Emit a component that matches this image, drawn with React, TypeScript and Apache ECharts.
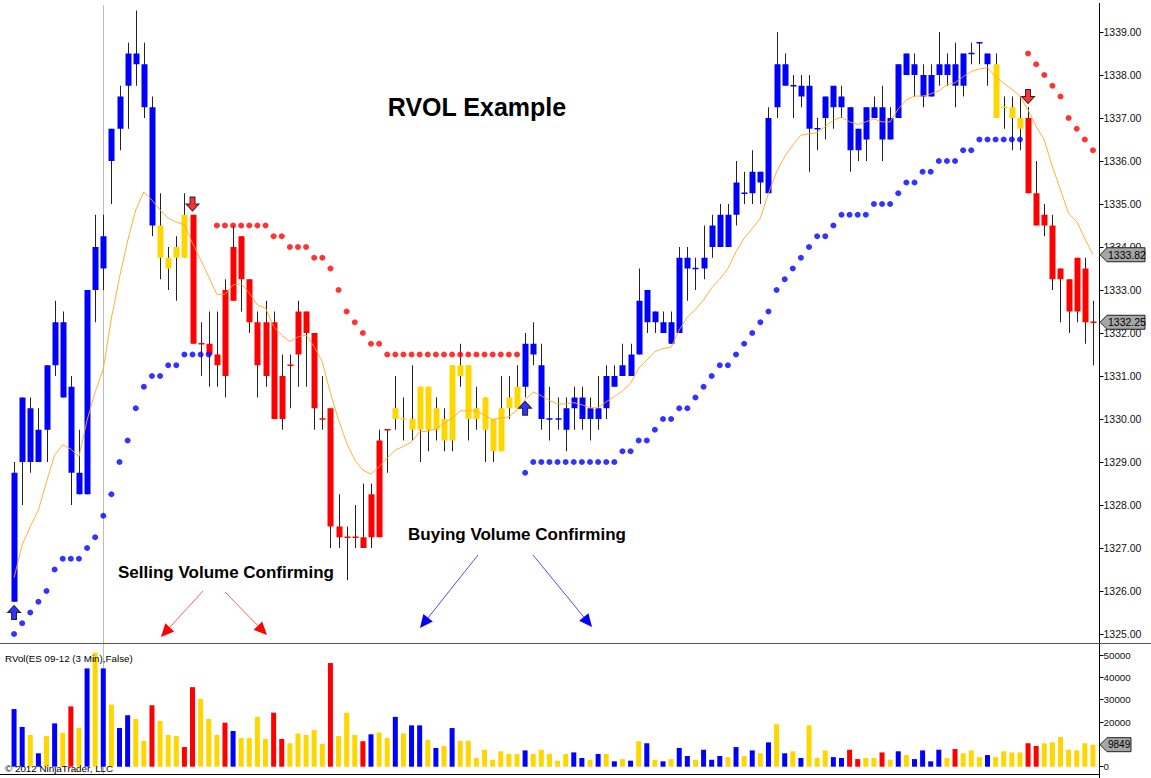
import React, { useEffect, useRef } from "react";
import * as echarts from "echarts";

const _ = null;

// Candle bodies (top / bottom of the body), wick extremes and RVOL state per 3-min bar
const bodyHigh = [
  1328.75, 1330.5, 1330.25, 1329.75, 1331.25, 1332.25, 1332.25, 1330.75, 1328.75, 1333.0,
  1334.0, 1334.25, 1336.75, 1337.5, 1338.5, 1338.5, 1338.25, 1337.25, 1334.5, 1333.75,
  1334.0, 1334.75, 1334.75, 1331.75, 1331.75, 1331.5, 1333.0, 1334.0, 1334.25, 1333.25,
  1332.25, 1332.25, 1332.25, 1331.0, 1331.25, 1332.5, 1332.5, 1332.0, 1330.0, 1330.25,
  1327.5, 1327.25, 1327.25, 1327.25, 1328.25, 1329.5, 1329.75, 1330.25, 1330.0, 1330.0,
  1330.75, 1330.75, 1330.25, 1330.0, 1331.25, 1331.25, 1331.25, 1330.25, 1330.5, 1330.0,
  1330.25, 1330.5, 1330.75, 1331.75, 1331.75, 1331.25, 1330.0, 1330.0, 1330.25, 1330.5,
  1330.5, 1330.25, 1330.25, 1331.0, 1331.0, 1331.25, 1331.5, 1332.75, 1333.0, 1332.5,
  1332.25, 1332.25, 1333.75, 1333.75, 1333.5, 1333.75, 1334.5, 1334.75, 1334.75, 1335.5,
  1335.25, 1335.75, 1335.75, 1337.0, 1338.25, 1338.25, 1337.75, 1337.75, 1337.75, 1336.75,
  1337.5, 1337.75, 1337.5, 1337.25, 1336.75, 1337.25, 1337.25, 1337.25, 1337.0, 1338.25,
  1338.5, 1338.25, 1338.0, 1338.0, 1338.25, 1338.25, 1338.25, 1338.5, 1338.5, 1338.75,
  1338.5, 1338.25, 1337.25, 1337.25, 1337.0, 1337.0, 1335.25, 1334.75, 1334.5, 1333.5,
  1333.25, 1333.75, 1333.5, 1332.25,
];
const bodyLow = [
  1325.75, 1329.0, 1329.0, 1329.0, 1329.75, 1331.25, 1330.5, 1328.75, 1328.25, 1328.25,
  1333.0, 1333.5, 1336.0, 1336.75, 1337.75, 1338.25, 1337.25, 1334.5, 1333.75, 1333.5,
  1333.75, 1333.75, 1331.75, 1331.75, 1331.5, 1331.25, 1331.0, 1332.75, 1333.25, 1332.25,
  1331.25, 1331.0, 1330.0, 1330.0, 1331.25, 1331.5, 1332.0, 1330.25, 1330.0, 1327.5,
  1327.25, 1327.25, 1327.25, 1327.0, 1327.25, 1327.25, 1329.75, 1330.0, 1330.0, 1329.75,
  1329.75, 1329.75, 1329.75, 1329.5, 1329.5, 1331.0, 1330.0, 1330.0, 1329.75, 1329.25,
  1329.25, 1330.25, 1330.25, 1330.75, 1331.5, 1330.0, 1330.0, 1330.0, 1329.75, 1330.25,
  1330.0, 1330.0, 1330.0, 1330.25, 1330.75, 1331.0, 1331.0, 1331.5, 1332.25, 1332.25,
  1332.0, 1331.75, 1332.0, 1333.5, 1333.5, 1333.5, 1334.0, 1334.0, 1334.0, 1334.75,
  1335.25, 1335.25, 1335.5, 1335.25, 1337.25, 1337.75, 1337.75, 1337.5, 1336.75, 1336.75,
  1337.0, 1337.25, 1337.25, 1336.25, 1336.25, 1336.5, 1337.0, 1336.5, 1336.5, 1337.0,
  1338.0, 1338.0, 1337.5, 1337.5, 1338.0, 1338.0, 1337.75, 1337.75, 1338.5, 1338.75,
  1338.25, 1337.0, 1337.25, 1337.0, 1336.75, 1335.25, 1334.5, 1334.5, 1333.25, 1333.25,
  1332.5, 1332.5, 1332.25, 1332.25,
];
const highs = [
  1329.0, 1330.5, 1330.5, 1330.25, 1331.25, 1332.75, 1332.5, 1331.0, 1329.75, 1333.0,
  1334.75, 1334.75, 1336.75, 1337.75, 1338.75, 1339.5, 1338.75, 1337.5, 1335.25, 1334.0,
  1334.25, 1335.25, 1334.75, 1332.25, 1332.5, 1332.5, 1333.25, 1334.5, 1334.25, 1333.25,
  1332.5, 1332.75, 1332.5, 1331.5, 1331.5, 1332.75, 1332.5, 1332.0, 1331.0, 1330.25,
  1328.25, 1327.5, 1328.0, 1328.5, 1328.5, 1329.75, 1329.75, 1331.0, 1330.5, 1331.25,
  1330.75, 1330.75, 1330.5, 1330.25, 1331.25, 1331.75, 1331.25, 1330.75, 1330.5, 1330.0,
  1331.0, 1331.0, 1331.25, 1332.0, 1332.25, 1331.75, 1330.75, 1330.5, 1330.5, 1330.75,
  1330.75, 1330.5, 1331.0, 1331.25, 1331.25, 1331.75, 1331.75, 1333.5, 1333.0, 1332.5,
  1332.5, 1332.5, 1334.0, 1334.0, 1333.75, 1334.5, 1334.75, 1335.0, 1335.0, 1336.0,
  1335.75, 1336.25, 1335.75, 1337.25, 1339.0, 1338.5, 1338.0, 1338.0, 1338.0, 1337.0,
  1337.5, 1337.75, 1337.75, 1337.25, 1336.75, 1337.25, 1337.5, 1337.75, 1337.25, 1338.25,
  1338.5, 1338.5, 1338.25, 1338.25, 1339.0, 1338.5, 1338.75, 1338.5, 1338.75, 1338.75,
  1338.5, 1338.5, 1337.5, 1337.5, 1337.5, 1337.25, 1336.0, 1335.0, 1334.75, 1333.5,
  1333.25, 1333.75, 1333.75, 1332.75,
];
const lows = [
  1325.75, 1328.0, 1328.75, 1329.0, 1329.0, 1331.0, 1330.5, 1328.0, 1328.25, 1328.25,
  1332.25, 1333.0, 1335.0, 1336.25, 1336.75, 1337.75, 1337.0, 1334.25, 1333.25, 1333.0,
  1332.75, 1333.75, 1331.75, 1331.0, 1330.75, 1330.75, 1330.5, 1332.75, 1332.5, 1332.0,
  1330.5, 1330.75, 1330.0, 1329.75, 1330.25, 1330.75, 1330.75, 1329.75, 1329.75, 1327.0,
  1327.0, 1326.25, 1327.0, 1327.0, 1327.0, 1327.25, 1328.75, 1329.75, 1329.5, 1329.5,
  1329.0, 1329.25, 1329.5, 1329.25, 1329.25, 1330.75, 1329.5, 1329.75, 1329.0, 1329.0,
  1329.25, 1330.0, 1330.25, 1330.5, 1331.25, 1329.75, 1329.5, 1329.75, 1329.25, 1329.75,
  1329.75, 1329.5, 1329.75, 1330.0, 1330.75, 1331.0, 1331.0, 1331.5, 1332.0, 1332.0,
  1332.0, 1331.75, 1332.0, 1332.75, 1333.0, 1333.25, 1333.75, 1334.0, 1334.0, 1334.5,
  1335.0, 1335.0, 1335.0, 1335.25, 1337.0, 1337.75, 1337.0, 1337.25, 1335.75, 1336.25,
  1336.5, 1336.75, 1337.0, 1335.75, 1336.0, 1336.0, 1337.0, 1336.0, 1336.5, 1337.0,
  1338.0, 1337.5, 1337.25, 1337.5, 1337.75, 1337.75, 1337.25, 1337.5, 1338.25, 1338.25,
  1337.75, 1337.0, 1336.75, 1336.25, 1336.25, 1335.25, 1334.5, 1334.25, 1333.0, 1332.25,
  1332.0, 1332.25, 1331.75, 1331.25,
];
// B = blue (buying volume), R = red (selling volume), G = gold (neutral)
const candleState = (
  "BBBBBBBBBBBBBBBBBB" + "GGGG" + "RRRRRRRRRRRRRRRRRRRRRRRRR" + "GGGGGGGGGGGGGGGG" +
  "BBBBBBBBBBBBBBBBBBBBBBBBBBBBBBBBBBBBBBBBBBBBBBBBBBBBBBBBBB" + "GGGG" + "RRRRRRRRR"
).split("");

// Orange moving average
const maValues = [
  1326.31, 1327.07, 1327.5, 1327.88, 1328.54, 1329.16, 1329.4, 1329.3, 1329.12, 1329.97,
  1330.63, 1331.16, 1332.35, 1333.29, 1334.14, 1334.86, 1335.28, 1335.09, 1334.86, 1334.67,
  1334.58, 1334.52, 1334.09, 1333.7, 1333.31, 1332.9, 1332.9, 1333.12, 1333.14, 1332.93,
  1332.65, 1332.58, 1332.15, 1331.95, 1331.8, 1331.91, 1331.95, 1331.68, 1331.33, 1330.6,
  1329.98, 1329.44, 1329.05, 1328.81, 1328.72, 1328.89, 1329.09, 1329.28, 1329.36, 1329.47,
  1329.7, 1329.72, 1329.77, 1329.9, 1330.02, 1330.19, 1330.19, 1330.19, 1330.09, 1329.99,
  1330.02, 1330.05, 1330.21, 1330.44, 1330.63, 1330.54, 1330.43, 1330.35, 1330.35, 1330.38,
  1330.33, 1330.26, 1330.26, 1330.4, 1330.52, 1330.65, 1330.83, 1331.18, 1331.37, 1331.57,
  1331.64, 1331.67, 1332.07, 1332.37, 1332.55, 1332.77, 1333.05, 1333.25, 1333.5, 1333.89,
  1334.2, 1334.43, 1334.67, 1335.25, 1335.75, 1336.1, 1336.37, 1336.6, 1336.63, 1336.66,
  1336.8, 1336.95, 1337.02, 1336.91, 1336.85, 1336.91, 1336.98, 1336.91, 1336.91, 1337.21,
  1337.42, 1337.51, 1337.51, 1337.56, 1337.63, 1337.77, 1337.82, 1337.96, 1338.08, 1338.14,
  1338.17, 1337.96, 1337.81, 1337.67, 1337.51, 1337.19, 1336.8, 1336.49, 1335.87, 1335.33,
  1334.78, 1334.59, 1334.2, 1333.82,
];

// Trailing stop dots: below price (blue) and above price (red)
const stopBelow = [
  1325.0, 1325.25, 1325.5, 1325.75, 1326.0, 1326.5, 1326.75, 1326.75, 1326.75, 1327.0,
  1327.25, 1327.75, 1328.25, 1329.0, 1329.5, 1330.25, 1330.75, 1331.0, 1331.0, 1331.25,
  1331.25, 1331.5, 1331.5, 1331.5, 1331.5, _, _, _, _, _,
  _, _, _, _, _, _, _, _, _, _,
  _, _, _, _, _, _, _, _, _, _,
  _, _, _, _, _, _, _, _, _, _,
  _, _, _, 1328.75, 1329.0, 1329.0, 1329.0, 1329.0, 1329.0, 1329.0,
  1329.0, 1329.0, 1329.0, 1329.0, 1329.0, 1329.25, 1329.25, 1329.5, 1329.5, 1329.75,
  1330.0, 1330.0, 1330.25, 1330.25, 1330.5, 1330.75, 1331.0, 1331.25, 1331.25, 1331.5,
  1331.75, 1332.0, 1332.25, 1332.5, 1333.0, 1333.25, 1333.5, 1333.75, 1334.0, 1334.25,
  1334.25, 1334.5, 1334.75, 1334.75, 1334.75, 1334.75, 1335.0, 1335.0, 1335.0, 1335.25,
  1335.5, 1335.5, 1335.75, 1335.75, 1336.0, 1336.0, 1336.0, 1336.25, 1336.25, 1336.5,
  1336.5, 1336.5, 1336.5, 1336.5, 1336.5, _, _, _, _, _,
  _, _, _, _,
];
const stopAbove = [
  _, _, _, _, _, _, _, _, _, _,
  _, _, _, _, _, _, _, _, _, _,
  _, _, _, _, _, 1334.5, 1334.5, 1334.5, 1334.5, 1334.5,
  1334.5, 1334.5, 1334.25, 1334.25, 1334.0, 1334.0, 1334.0, 1333.75, 1333.75, 1333.5,
  1333.0, 1332.5, 1332.25, 1332.0, 1331.75, 1331.75, 1331.5, 1331.5, 1331.5, 1331.5,
  1331.5, 1331.5, 1331.5, 1331.5, 1331.5, 1331.5, 1331.5, 1331.5, 1331.5, 1331.5,
  1331.5, 1331.5, 1331.5, _, _, _, _, _, _, _,
  _, _, _, _, _, _, _, _, _, _,
  _, _, _, _, _, _, _, _, _, _,
  _, _, _, _, _, _, _, _, _, _,
  _, _, _, _, _, _, _, _, _, _,
  _, _, _, _, _, _, _, _, _, _,
  _, _, _, _, _, 1338.5, 1338.25, 1338.0, 1337.75, 1337.5,
  1337.0, 1336.75, 1336.5, 1336.25,
];

// Signal arrows
const upArrowBars = [0, 63];
const upArrowPrices = [1325.5, 1330.25];
const downArrowBars = [22, 125];
const downArrowPrices = [1335.0, 1337.5];

// RVol volume pane
const volumes = [
  25800, 17800, 14200, 6000, 13700, 19400, 15200, 27000, 17300, 44000,
  51000, 44000, 27800, 17300, 23000, 21400, 11500, 27500, 20500, 14200,
  13700, 8800, 35600, 30300, 21400, 14200, 19700, 16000, 12800, 12800,
  22300, 12400, 24200, 12400, 10500, 14900, 14200, 16400, 10200, 46400,
  13700, 24200, 14200, 11400, 14500, 15300, 12800, 22300, 14900, 18500,
  18500, 12000, 8400, 9300, 17300, 11600, 11600, 3900, 7600, 3100,
  6900, 5700, 5700, 7300, 5700, 7600, 5700, 2700, 5700, 6400,
  3900, 3100, 5700, 5700, 2400, 3400, 2700, 11400, 10500, 3100,
  2400, 3400, 8400, 4800, 3100, 7600, 3100, 4800, 4300, 8800,
  4800, 7300, 6000, 10900, 19000, 6000, 6900, 3900, 18500, 3900,
  7300, 4300, 3900, 7600, 3400, 3900, 3900, 6400, 3100, 6900,
  5200, 3400, 7300, 2400, 7600, 3900, 7900, 6000, 7300, 4300,
  5200, 4300, 6900, 6400, 6400, 10500, 9300, 10500, 10900, 13300,
  7600, 7300, 10500, 9849,
];
const volumeState = (
  "BBGBGBGRGB" + "GBGBBGGRGG" + "GRRGGGRBGG" + "GGRRGGGGGR" + "GGGRBGGBGB" +
  "BGBGBGGGGG" + "GGGBGGGGGB" + "BGBGBGBGBG" + "BGBBGBBBGB" + "GBGBGBGBGG" +
  "GBBRRGGRGB" + "GBBBBGRGGG" + "BGGGGRRGGG" + "GGGG"
).split("");

const priceTicks = [1325, 1326, 1327, 1328, 1329, 1330, 1331, 1332, 1333, 1334, 1335, 1336, 1337, 1338, 1339];
const volumeTicks = [0, 10000, 20000, 30000, 40000, 50000];
const lastClose = 1332.25;
const lastMA = 1333.82;
const lastVolume = 9849;
const cursorBar = 11;
const categories = bodyHigh.map((_v, i) => String(i + 1));

const COLORS: Record<string, string> = { B: "#0000FF", R: "#FF0000", G: "#FFD700" };
const FONT = "'Liberation Sans', Arial, Helvetica, sans-serif";

function annotArrow(x1: number, y1: number, x2: number, y2: number, lineColor: string, headColor: string) {
  const ang = Math.atan2(y2 - y1, x2 - x1);
  const L = 13, W = 6;
  const bx = x2 - L * Math.cos(ang), by = y2 - L * Math.sin(ang);
  const px = -Math.sin(ang) * W, py = Math.cos(ang) * W;
  return [
    { type: "line", z: 40, shape: { x1, y1, x2: bx, y2: by }, style: { stroke: lineColor, lineWidth: 1 } },
    { type: "polygon", z: 40, shape: { points: [[x2, y2], [bx + px, by + py], [bx - px, by - py]] }, style: { fill: headColor } },
  ];
}

function tag(x0: number, y: number, text: string, width: number, fontSize: number) {
  const h = 7;
  return [
    {
      type: "polygon",
      z: 100,
      zlevel: 1,
      shape: { points: [[x0, y], [x0 + 7, y - h], [x0 + width, y - h], [x0 + width, y + h], [x0 + 7, y + h]] },
      style: { fill: "#a6a6a6", stroke: "#222", lineWidth: 1 },
    },
    {
      type: "text",
      z: 101,
      zlevel: 1,
      style: {
        text, x: x0 + 8, y, fill: "#000", font: `${fontSize}px ${FONT}`,
        textAlign: "left", textVerticalAlign: "middle",
      },
    },
  ];
}

function label(text: string, x: number, y: number, size: number, bold: boolean, align: string) {
  return {
    type: "text",
    z: 50,
    style: {
      text, x, y, fill: "#000",
      font: `${bold ? "bold " : ""}${size}px ${FONT}`,
      textAlign: align, textVerticalAlign: "middle",
    },
  };
}

const UP_ARROW = "path://M4,14 L4,7 L0,7 L6.5,0 L13,7 L9,7 L9,14 Z";
const DOWN_ARROW = "path://M4,0 L9,0 L9,7 L13,7 L6.5,14 L0,7 L4,7 Z";

export default function App() {
  const ref = useRef<HTMLDivElement>(null);
  useEffect(() => {
    document.body.style.margin = "0";
    const chart = echarts.init(ref.current!, undefined, { renderer: "svg" });

    const PRICE_TOP = 4, PRICE_BOTTOM = 643, VOL_TOP = 645, VOL_BOTTOM = 774;
    const PX_PER_POINT = 43;
    const yMax = 1339 + (32 - PRICE_TOP) / PX_PER_POINT;
    const yMin = 1325 - (PRICE_BOTTOM - 634) / PX_PER_POINT;
    const VOL_PX = 111.7 / 50000;
    const vMax = 50000 + (655 - VOL_TOP) / VOL_PX;
    const vMin = -(VOL_BOTTOM - 766.7) / VOL_PX;

    const candleData = bodyHigh.map((v, i) => [i, v, bodyLow[i], highs[i], lows[i]]);

    const option: any = {
      animation: false,
      backgroundColor: "#ffffff",
      grid: [
        { left: 10, width: 1087, top: PRICE_TOP, height: PRICE_BOTTOM - PRICE_TOP },
        { left: 10, width: 1087, top: VOL_TOP, height: VOL_BOTTOM - VOL_TOP },
      ],
      xAxis: [
        { type: "category", data: categories, gridIndex: 0, show: false, boundaryGap: true },
        { type: "category", data: categories, gridIndex: 1, show: false, boundaryGap: true },
      ],
      yAxis: [
        {
          type: "value", gridIndex: 0, position: "right", offset: 2.5, min: yMin, max: yMax,
          splitLine: { show: false }, axisLine: { show: false },
          axisTick: { show: true, length: 4, customValues: priceTicks, lineStyle: { color: "#000" } },
          axisLabel: {
            customValues: priceTicks, margin: 4, fontSize: 10.5, color: "#111", fontFamily: FONT,
            formatter: (v: number) => v.toFixed(2),
          },
        },
        {
          type: "value", gridIndex: 1, position: "right", offset: 2.5, min: vMin, max: vMax,
          splitLine: { show: false }, axisLine: { show: false },
          axisTick: { show: true, length: 4, customValues: volumeTicks, lineStyle: { color: "#000" } },
          axisLabel: {
            customValues: volumeTicks, margin: 4, fontSize: 9.8, color: "#111", fontFamily: FONT,
            formatter: (v: number) => String(v),
          },
        },
      ],
      series: [
        {
          type: "custom",
          name: "price",
          xAxisIndex: 0, yAxisIndex: 0,
          data: candleData,
          encode: { x: 0, y: [1, 2, 3, 4] },
          z: 2,
          renderItem: (params: any, api: any) => {
            const idx = api.value(0);
            const top = api.coord([idx, api.value(1)]);
            const bot = api.coord([idx, api.value(2)]);
            const hi = api.coord([idx, api.value(3)]);
            const lo = api.coord([idx, api.value(4)]);
            const color = COLORS[candleState[params.dataIndex]];
            const cx = Math.round(top[0]);
            const w = 6;
            const children: any[] = [
              { type: "line", shape: { x1: cx + 0.5, y1: hi[1], x2: cx + 0.5, y2: lo[1] }, style: { stroke: "#222", lineWidth: 1 } },
            ];
            const h = bot[1] - top[1];
            if (h < 1.5) {
              children.push({
                type: "line",
                shape: { x1: cx + 0.5 - w / 2, y1: top[1], x2: cx + 0.5 + w / 2, y2: top[1] },
                style: { stroke: color, lineWidth: 1.5 },
              });
            } else {
              children.push({
                type: "rect",
                shape: { x: cx + 0.5 - w / 2, y: top[1], width: w, height: h },
                style: { fill: color },
              });
            }
            return { type: "group", children };
          },
        },
        {
          type: "line", name: "MA", xAxisIndex: 0, yAxisIndex: 0, data: maValues,
          symbol: "none", showSymbol: false, z: 3,
          lineStyle: { color: "#FFA726", width: 1, opacity: 0.9 },
        },
        {
          type: "scatter", name: "stopLong", xAxisIndex: 0, yAxisIndex: 0,
          data: stopBelow.map((v) => (v === null ? "-" : v)),
          symbol: "circle", symbolSize: 6, z: 4,
          itemStyle: { color: "#0000FF" },
        },
        {
          type: "scatter", name: "stopShort", xAxisIndex: 0, yAxisIndex: 0,
          data: stopAbove.map((v) => (v === null ? "-" : v)),
          symbol: "circle", symbolSize: 6, z: 4,
          itemStyle: { color: "#FF0000" },
        },
        {
          type: "scatter", name: "buySignal", xAxisIndex: 0, yAxisIndex: 0,
          data: upArrowBars.map((b, k) => [b, upArrowPrices[k]]),
          symbol: UP_ARROW, symbolSize: [13, 14], z: 5,
          itemStyle: { color: "#0000FF", borderColor: "#000", borderWidth: 1 },
        },
        {
          type: "scatter", name: "sellSignal", xAxisIndex: 0, yAxisIndex: 0,
          data: downArrowBars.map((b, k) => [b, downArrowPrices[k]]),
          symbol: DOWN_ARROW, symbolSize: [13, 14], z: 5,
          itemStyle: { color: "#FF0000", borderColor: "#000", borderWidth: 1 },
        },
        {
          type: "bar", name: "RVol", xAxisIndex: 1, yAxisIndex: 1, barWidth: 5,
          data: volumes.map((v, i) => ({ value: v, itemStyle: { color: COLORS[volumeState[i]] } })),
        },
      ],
    };
    chart.setOption(option);

    const axisX = 1099.5;
    const cursorX = Math.round(chart.convertToPixel({ xAxisIndex: 0 } as any, cursorBar) as any) + 0.5;
    const yClose = chart.convertToPixel({ yAxisIndex: 0 } as any, lastClose) as any;
    const yMA = chart.convertToPixel({ yAxisIndex: 0 } as any, lastMA) as any;
    const yVol = chart.convertToPixel({ yAxisIndex: 1 } as any, lastVolume) as any;

    const graphics: any[] = [
      { type: "line", z: 60, shape: { x1: axisX, y1: 3, x2: axisX, y2: 778 }, style: { stroke: "#000", lineWidth: 1 } },
      { type: "line", z: 60, shape: { x1: 0, y1: 643.5, x2: 1151, y2: 643.5 }, style: { stroke: "#555", lineWidth: 1 } },
      { type: "line", z: 60, shape: { x1: 0, y1: 774.5, x2: axisX, y2: 774.5 }, style: { stroke: "#000", lineWidth: 1 } },
      { type: "line", z: 0, shape: { x1: cursorX, y1: 5, x2: cursorX, y2: 774 }, style: { stroke: "#bdbdbd", lineWidth: 1 } },
      label("RVOL Example", 477, 107, 25, true, "center"),
      label("Selling Volume Confirming", 226, 572, 17, true, "center"),
      label("Buying Volume Confirming", 517, 534, 17, true, "center"),
      label("RVol(ES 09-12 (3 Min),False)", 5, 658, 9.8, false, "left"),
      label("\u00A9 2012 NinjaTrader, LLC", 5, 768, 9.8, false, "left"),
      ...annotArrow(203, 591, 161, 637, "#ff6060", "#ff0000"),
      ...annotArrow(225, 592, 267, 635, "#ff6060", "#ff0000"),
      ...annotArrow(478, 555, 420, 628, "#4b4bff", "#0000ff"),
      ...annotArrow(533, 555, 592, 627, "#4b4bff", "#0000ff"),
      ...tag(1100, yMA, lastMA.toFixed(2), 45, 10.5),
      ...tag(1100, yClose, lastClose.toFixed(2), 45, 10.5),
      ...tag(1100, yVol, String(lastVolume), 31, 10),
    ];
    chart.setOption({ graphic: graphics });

    return () => chart.dispose();
  }, []);
  return <div ref={ref} style={{ position: "absolute", left: 0, top: 0, width: 1151, height: 778 }} />;
}
